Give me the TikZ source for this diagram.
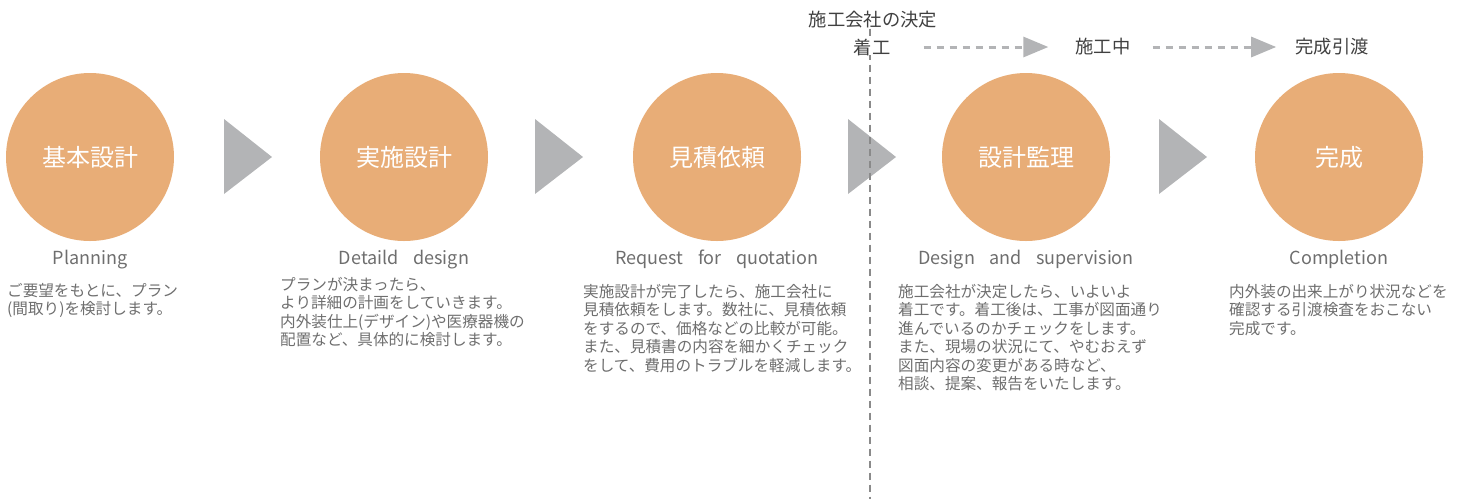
\documentclass[tikz,border=0pt]{standalone}
\usepackage{fontspec}
\setmainfont{Noto Sans CJK JP}
\newfontfamily\wideenfont{Noto Sans CJK JP}[WordSpace=3.6]
\usetikzlibrary{arrows.meta,positioning}
\definecolor{phasefill}{HTML}{E8AD77}
\definecolor{markgray}{HTML}{B3B4B6}
\definecolor{linegray}{HTML}{8A8A8A}
\definecolor{textgray}{HTML}{6E6E6E}

\begin{document}
\begin{tikzpicture}[x=1pt,y=-1pt]
			\tikzset{
				phase/.style={circle, fill=phasefill, minimum size=168pt, inner sep=0pt, text=white, font=\fontsize{24}{24}\selectfont},
				entitle/.style={text=textgray, inner sep=0pt, font=\wideenfont\fontsize{18}{18}\selectfont},
				memo/.style={anchor=north west, align=left, inner sep=0pt, text=textgray, font=\fontsize{15.6}{18.4}\selectfont},
				stage/.style={inner sep=0pt, text=black!75, font=\fontsize{18.3}{18.3}\selectfont},
				flow/.style={markgray, line width=3pt, dash pattern=on 7pt off 6pt, -{Triangle[length=25pt, width=20pt]}}
			}
			\useasboundingbox (0,0) rectangle (1467,499);

			\foreach \x in {224, 535, 848, 1159}
				\fill[markgray] (\x,119) -- ++(48,38) -- ++(-48,37) -- cycle;

			\foreach \x/\n/\jp/\en in {90/1/基本設計/Planning, 404/2/実施設計/Detaild design, 717/3/見積依頼/Request for quotation, 1026/4/設計監理/Design and supervision, 1339/5/完成/Completion}
			{
				\node[phase] (s\n) at (\x,157) {\jp};
				\node[entitle, below=23pt of s\n, anchor=base] (e\n) {\en};
			}

			\node[memo] (m1) at (7,283) {ご要望をもとに、プラン\\(間取り)を検討します。};
			\node[memo] (m2) at (280,277) {プランが決まったら、\\より詳細の計画をしていきます。\\内外装仕上(デザイン)や医療器機の\\配置など、具体的に検討します。};
			\node[memo] (m3) at (583,284) {実施設計が完了したら、施工会社に\\見積依頼をします。数社に、見積依頼\\をするので、価格などの比較が可能。\\また、見積書の内容を細かくチェック\\をして、費用のトラブルを軽減します。};
			\node[memo] (m4) at (898,284) {施工会社が決定したら、いよいよ\\着工です。着工後は、工事が図面通り\\進んでいるのかチェックをします。\\また、現場の状況にて、やむおえず\\図面内容の変更がある時など、\\相談、提案、報告をいたします。};
			\node[memo] (m5) at (1229,284) {内外装の出来上がり状況などを\\確認する引渡検査をおこない\\完成です。};

			\node[stage] (deal) at (873,20) {施工会社の決定};
			\coordinate (cut) at (870,499);
			\draw[linegray, line width=1.2pt, dash pattern=on 7pt off 5pt] (deal.south -| cut) -- (cut);

			\node[stage, fill=white] (k1) at (872,47) {着工};
			\node[stage] (k2) at (1103,47) {施工中};
			\node[stage] (k3) at (1332,47) {完成引渡};
			\draw[flow] ([xshift=33pt]k1.east) -- ([xshift=-27pt]k2.west);
			\draw[flow] ([xshift=22pt]k2.east) -- ([xshift=-19pt]k3.west);
		\end{tikzpicture}
\end{document}
